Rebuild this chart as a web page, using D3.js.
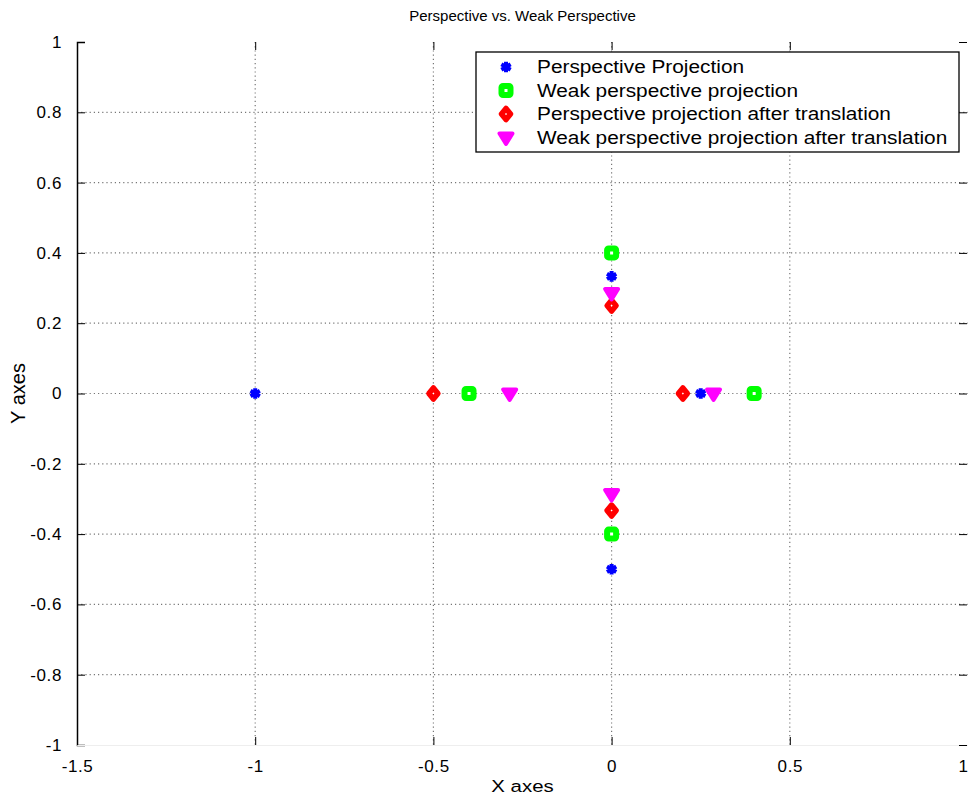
<!DOCTYPE html>
<html>
<head>
<meta charset="utf-8">
<script src="https://cdn.jsdelivr.net/npm/d3@7"></script>
<style>
  body { margin: 0; background: #fff; }
  text { font-family: "Liberation Sans", Arial, sans-serif; fill: #000; }
</style>
</head>
<body>
<div id="chart"></div>
<script>
(function() {

  var width = 968,
      height = 797

  var margin = { top: 42, right: 0, bottom: 52, left: 77 }

  // series
  var seriesNames = [
    "Perspective Projection",
    "Weak perspective projection",
    "Perspective projection after translation",
    "Weak perspective projection after translation"
  ]
  var seriesColors = ["#0000ff", "#00ff00", "#ff0000", "#ff00ff"]
  var seriesSymbols = ["asterisk", "square", "diamond", "triangle"]

  var perspX = [-1, 0.25, 0, 0]
  var perspY = [0, 0, 0.333, -0.5]
  var weakX = [-0.4, 0.4, 0, 0]
  var weakY = [0, 0, 0.4, -0.4]
  var perspTransX = [-0.5, 0.2, 0, 0]
  var perspTransY = [0, 0, 0.25, -0.333]
  var weakTransX = [-0.286, 0.286, 0, 0]
  var weakTransY = [0, 0, 0.286, -0.286]

  var xTicks = [-1.5, -1, -0.5, 0, 0.5, 1]
  var yTicks = [-1, -0.8, -0.6, -0.4, -0.2, 0, 0.2, 0.4, 0.6, 0.8, 1]

  var series = [
    { xs: perspX, ys: perspY },
    { xs: weakX, ys: weakY },
    { xs: perspTransX, ys: perspTransY },
    { xs: weakTransX, ys: weakTransY }
  ]

  var svg = d3.select("#chart")
    .append("svg")
    .attr("width", width)
    .attr("height", height)

  var x = d3.scaleLinear().domain([-1.5, 1]).range([margin.left, width - margin.right])
  var y = d3.scaleLinear().domain([-1, 1]).range([height - margin.bottom, margin.top])

  // grid
  svg.selectAll(".hgrid")
    .data(yTicks.slice(1, -1))
    .enter().append("line")
    .attr("x1", x(-1.5))
    .attr("x2", x(1))
    .attr("y1", function(d) { return y(d) })
    .attr("y2", function(d) { return y(d) })
    .attr("stroke", "#777")
    .attr("stroke-width", 1.2)
    .attr("stroke-dasharray", "1.2,3")

  svg.selectAll(".vgrid")
    .data(xTicks.slice(1, -1))
    .enter().append("line")
    .attr("x1", function(d) { return x(d) })
    .attr("x2", function(d) { return x(d) })
    .attr("y1", y(1))
    .attr("y2", y(-1))
    .attr("stroke", "#777")
    .attr("stroke-width", 1.2)
    .attr("stroke-dasharray", "1.2,3")

  // axes (matlab style, ticks inward)
  var fmt = function(d) { return String(d) }
  var yAxis = d3.axisLeft(y).tickValues(yTicks).tickSize(-8).tickPadding(15).tickFormat(fmt)
  var xAxis = d3.axisBottom(x).tickValues(xTicks).tickSize(-8).tickPadding(15).tickFormat(fmt)

  var gy = svg.append("g")
    .attr("transform", "translate(" + margin.left + ",0)")
    .call(yAxis)
  gy.select(".domain").attr("stroke-width", 1.5)

  var gx = svg.append("g")
    .attr("transform", "translate(0," + (height - margin.bottom) + ")")
    .call(xAxis)
  gx.select(".domain").attr("stroke", "#eee")
  // last label sits against the page edge
  gx.selectAll(".tick text").attr("text-anchor", function(d) { return d === 1 ? "end" : "middle" })

  svg.selectAll(".tick text")
    .style("font-size", "17px")
    .style("letter-spacing", "0.6px")
    .style("font-family", "'Liberation Sans', Arial, sans-serif")

  // right and top ticks
  svg.append("g")
    .attr("transform", "translate(" + (width - 1) + ",0)")
    .call(d3.axisRight(y).tickValues(yTicks).tickSize(-8).tickFormat(""))
    .select(".domain").attr("stroke", "none")
  svg.append("g")
    .attr("transform", "translate(0," + margin.top + ")")
    .call(d3.axisTop(x).tickValues(xTicks).tickSize(-8).tickFormat(""))
    .select(".domain").attr("stroke", "none")

  // markers
  function drawMarker(g, sym, color) {
    if (sym === "asterisk") {
      g.append("path")
        .attr("d", d3.symbol().type(d3.symbolAsterisk).size(80)())
        .attr("fill", "none").attr("stroke", color).attr("stroke-width", 4)
      g.append("circle").attr("r", 3.5).attr("fill", color)
    } else if (sym === "square") {
      g.append("rect")
        .attr("x", -4.5).attr("y", -4.5).attr("width", 9).attr("height", 9)
        .attr("rx", 1.5)
        .attr("fill", "#fff").attr("stroke", color).attr("stroke-width", 6)
        .attr("stroke-linejoin", "round")
    } else if (sym === "diamond") {
      g.append("path")
        .attr("d", "M0,-5.5L4.5,0L0,5.5L-4.5,0Z")
        .attr("fill", "#fff").attr("stroke", color).attr("stroke-width", 5.5)
        .attr("stroke-linejoin", "round")
    } else {
      g.append("path")
        .attr("d", "M-6.5,-4L6.5,-4L0,6.5Z")
        .attr("fill", color).attr("stroke", color).attr("stroke-width", 4)
        .attr("stroke-linejoin", "round")
    }
  }

  series.forEach(function(s, i) {
    s.xs.forEach(function(xv, j) {
      var g = svg.append("g")
        .attr("transform", "translate(" + x(xv) + "," + y(s.ys[j]) + ")")
      drawMarker(g, seriesSymbols[i], seriesColors[i])
    })
  })

  // legend
  var lx = 476, ly = 52
  svg.append("rect")
    .attr("x", lx).attr("y", ly)
    .attr("width", 483).attr("height", 100)
    .attr("fill", "#fff").attr("stroke", "#000").attr("stroke-width", 1.3)

  seriesNames.forEach(function(name, i) {
    var cy = ly + 15 + i * 23.5
    var g = svg.append("g").attr("transform", "translate(" + (lx + 30) + "," + cy + ")")
    drawMarker(g, seriesSymbols[i], seriesColors[i])
    svg.append("text")
      .attr("transform", "translate(" + (lx + 61) + "," + (cy + 6) + ") scale(1.19,1)")
      .style("font-size", "17.5px")
      .text(name)
  })

  // title and labels
  svg.append("text")
    .attr("x", (x(-1.5) + x(1)) / 2)
    .attr("y", 21)
    .attr("text-anchor", "middle")
    .style("font-size", "15px")
    .text("Perspective vs. Weak Perspective")

  svg.append("text")
    .attr("transform", "translate(" + ((x(-1.5) + x(1)) / 2) + ",792) scale(1.2,1)")
    .attr("text-anchor", "middle")
    .style("font-size", "17px")
    .text("X axes")

  svg.append("text")
    .attr("transform", "translate(25," + y(0) + ") rotate(-90)")
    .attr("text-anchor", "middle")
    .style("font-size", "20px")
    .text("Y axes")

})()
</script>
</body>
</html>
